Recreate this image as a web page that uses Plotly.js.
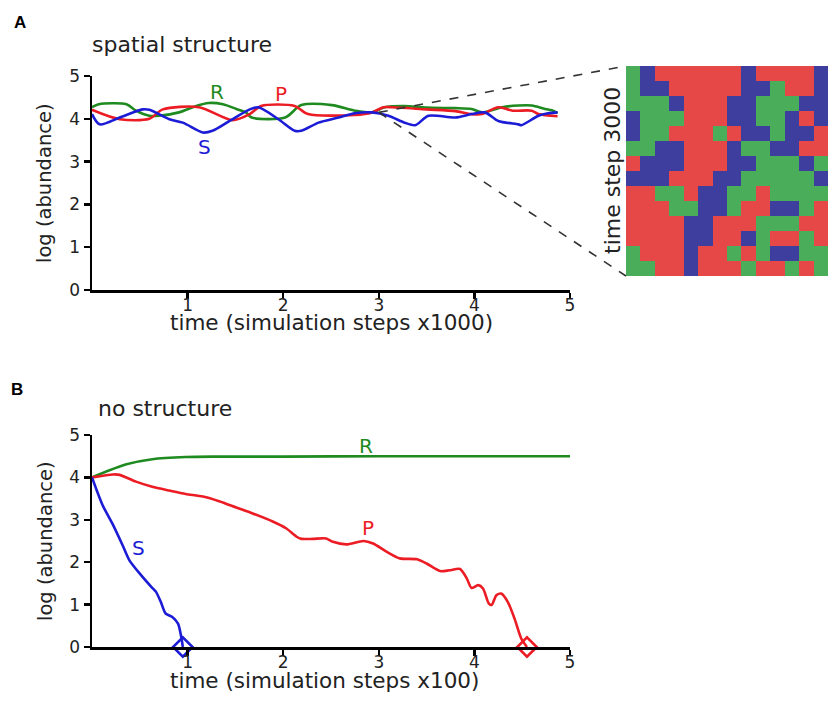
<!DOCTYPE html>
<html>
<head>
<meta charset="utf-8">
<script src="https://cdn.plot.ly/plotly-3.0.1.min.js"></script>
<style>html,body{margin:0;padding:0;background:#fff;}#chart{width:828px;height:711px;}</style>
</head>
<body>
<div id="chart"></div>
<script>
// ---------- Panel A: spatial structure (time in x1000 steps) ----------
const aTimeR = [0, 0.07, 0.36, 0.46, 0.60, 0.70, 0.91, 1.09, 1.22, 1.37, 1.51, 1.61, 1.67, 2.02, 2.19, 2.51, 2.75, 2.93, 3.06, 3.27, 3.5, 3.8, 3.97, 4.08, 4.29, 4.46, 4.60, 4.74, 4.81, 4.87];
const aLogR  = [4.27, 4.34, 4.34, 4.19, 4.07, 4.07, 4.15, 4.30, 4.37, 4.34, 4.23, 4.15, 4.03, 4.03, 4.32, 4.32, 4.19, 4.15, 4.27, 4.30, 4.26, 4.25, 4.23, 4.15, 4.27, 4.31, 4.31, 4.23, 4.20, 4.13];
const aTimeP = [0, 0.29, 0.60, 0.74, 1.12, 1.47, 1.65, 1.77, 2.12, 2.26, 2.75, 2.93, 3.05, 3.14, 3.5, 3.8, 3.97, 4.08, 4.25, 4.4, 4.6, 4.67, 4.87];
const aLogP  = [4.21, 3.99, 4.00, 4.22, 4.27, 3.97, 4.11, 4.30, 4.30, 4.11, 4.09, 4.15, 4.27, 4.27, 4.22, 4.18, 4.11, 4.11, 4.27, 4.19, 4.19, 4.11, 4.06];
const aTimeS = [0, 0.08, 0.29, 0.53, 0.60, 0.81, 0.95, 1.16, 1.26, 1.44, 1.65, 1.74, 1.95, 2.12, 2.19, 2.37, 2.58, 2.75, 2.93, 3.10, 3.27, 3.38, 3.52, 3.80, 3.97, 4.11, 4.25, 4.46, 4.49, 4.67, 4.77, 4.87];
const aLogS  = [4.11, 3.87, 4.03, 4.22, 4.21, 3.99, 3.91, 3.68, 3.72, 3.95, 4.22, 4.27, 3.99, 3.72, 3.72, 3.91, 4.03, 4.13, 4.15, 4.07, 3.91, 3.85, 4.07, 4.03, 4.11, 4.15, 3.95, 3.87, 3.85, 4.07, 4.13, 4.15];
const zoomTime = 3, zoomLog = 4.15;

// ---------- Panel B: no structure (time in x100 steps) ----------
const bTimeR = [0, 0.15, 0.36, 0.63, 0.98, 1.3, 2.0, 3.0, 4.0, 5.0];
const bLogR  = [4.0, 4.14, 4.31, 4.43, 4.48, 4.49, 4.49, 4.50, 4.50, 4.50];
const bTimeP = [0, 0.22, 0.29, 0.46, 0.63, 0.81, 0.98, 1.16, 1.33, 1.51, 1.68, 1.89, 2.03, 2.14, 2.19, 2.31, 2.45, 2.52, 2.66, 2.84, 2.94, 3.08, 3.22, 3.40, 3.50, 3.64, 3.74, 3.85, 3.92, 3.97, 4.04, 4.09, 4.15, 4.18, 4.23, 4.28, 4.35, 4.42, 4.49, 4.55];
const bLogP  = [4.0, 4.07, 4.06, 3.90, 3.78, 3.69, 3.61, 3.55, 3.44, 3.29, 3.15, 2.96, 2.80, 2.60, 2.55, 2.55, 2.56, 2.48, 2.42, 2.50, 2.44, 2.25, 2.09, 2.07, 1.97, 1.79, 1.81, 1.84, 1.62, 1.39, 1.46, 1.38, 1.03, 0.99, 1.22, 1.26, 1.06, 0.67, 0.20, 0];
const bTimeS = [0, 0.11, 0.22, 0.32, 0.39, 0.50, 0.62, 0.67, 0.72, 0.77, 0.84, 0.90, 0.93, 0.95];
const bLogS  = [4.0, 3.35, 2.88, 2.40, 2.05, 1.73, 1.42, 1.30, 1.06, 0.79, 0.71, 0.55, 0.28, 0];
const extinctS = [0.95], extinctP = [4.55];

const xTicks = [1, 2, 3, 4, 5];
const yTicks = [0, 1, 2, 3, 4, 5];

// ---------- Snapshot at time step 3000 (dominant species per patch) ----------
const gridRows = [
  "GBRRRRRRBRRRRB",
  "GBBRRRRRBBGRRB",
  "GGGBRRRBBGGGBB",
  "BGGGRRRBBGGBRB",
  "BGGRRRGRBBGBBR",
  "GGBBRRRBGGBBRR",
  "RBBBRRRBBGGGBG",
  "BBBRRRBBGGGGGB",
  "RRGGRBBGGRGGGG",
  "RRRGGBBGRRBBGR",
  "RRRRBBRRRGGGRR",
  "RRRRBBRRBGRRGR",
  "GRRRBRRGRGBBGG",
  "GGRRBRRRGRRGRG"
];
const speciesCode = {R: 0, G: 1, B: 2};

// ---------- styles ----------
const FONT = "DejaVu Sans";
const TXT = "#222";
const cR = "#1f8a1f", cP = "#ec1c24", cS = "#1c1cd6";
const W = 828, H = 711;
const px = v => v / W, py = v => 1 - v / H;
const domXA = [px(92), px(570)];
const domYA = [py(290), py(76)];
const domYB = [py(647), py(435)];
const domXI = [px(626), 1];
const domYI = [py(276), py(66)];

function line(x, y, color, xa, ya, smooth) {
  return {x, y, type: "scatter", mode: "lines", xaxis: xa, yaxis: ya, cliponaxis: false,
    line: {color, width: 2.6, shape: "spline", smoothing: smooth}, hoverinfo: "skip", showlegend: false};
}
function diamond(x, color) {
  return {x, y: x.map(() => 0), type: "scatter", mode: "markers", xaxis: "x2", yaxis: "y2", cliponaxis: false,
    marker: {symbol: "diamond-open", size: 15, color, line: {color, width: 2.6}}, showlegend: false, hoverinfo: "skip"};
}

const zGrid = gridRows.map(r => r.split("").map(ch => speciesCode[ch]));

const traces = [
  line(aTimeR, aLogR, cR, "x", "y", 0.8),
  line(aTimeP, aLogP, cP, "x", "y", 0.8),
  line(aTimeS, aLogS, cS, "x", "y", 0.8),
  line(bTimeR, bLogR, cR, "x2", "y2", 0.8),
  line(bTimeP, bLogP, cP, "x2", "y2", 0.7),
  line(bTimeS, bLogS, cS, "x2", "y2", 0.7),
  diamond(extinctS, cS),
  diamond(extinctP, cP),
  {type: "heatmap", z: zGrid, xaxis: "x3", yaxis: "y3", zmin: 0, zmax: 2, showscale: false, hoverinfo: "skip",
   colorscale: [[0, "#e64848"], [0.333, "#e64848"], [0.333, "#4aad5a"], [0.667, "#4aad5a"], [0.667, "#3e3e9e"], [1, "#3e3e9e"]]}
];

function xAxis(domain, anchor) {
  return {domain, anchor, range: [0, 5], showline: true, linewidth: 2.5, linecolor: "#000", mirror: false,
    ticks: "outside", ticklen: 6, tickwidth: 2.5, tickcolor: "#000", tickvals: xTicks, showgrid: false, zeroline: false,
    ticklabelstandoff: -8,
    tickfont: {family: FONT, size: 17, color: TXT}};
}
function yAxis(domain, anchor) {
  return {domain, anchor, range: [0, 5], showline: true, linewidth: 2.5, linecolor: "#000",
    ticks: "outside", ticklen: 6, tickwidth: 2.5, tickcolor: "#000", tickvals: yTicks, showgrid: false, zeroline: false,
    tickfont: {family: FONT, size: 17, color: TXT}};
}

// connector from the zoom point in panel A to the snapshot corners
const zx = domXA[0] + zoomTime / 5 * (domXA[1] - domXA[0]);
const zy = domYA[0] + zoomLog / 5 * (domYA[1] - domYA[0]);

function lab(text, x, y, color, xref, yref) {
  return {text, x, y, xref, yref, showarrow: false, font: {family: FONT, size: 20, color}, xanchor: "center", yanchor: "middle"};
}
function ptext(text, x, y, size, angle, family) {
  return {text, x: px(x), y: py(y), xref: "paper", yref: "paper", xanchor: "center", yanchor: "middle",
    textangle: angle || 0, showarrow: false, font: {family: family || FONT, size, color: TXT}};
}

const layout = {
  width: W, height: H, margin: {l: 0, r: 0, t: 0, b: 0},
  paper_bgcolor: "#fff", plot_bgcolor: "rgba(0,0,0,0)", showlegend: false,
  xaxis: xAxis(domXA, "y"),
  yaxis: yAxis(domYA, "x"),
  xaxis2: xAxis(domXA, "y2"),
  yaxis2: yAxis(domYB, "x2"),
  xaxis3: {domain: domXI, anchor: "y3", visible: false, range: [-0.5, 13.5]},
  yaxis3: {domain: domYI, anchor: "x3", visible: false, range: [13.5, -0.5]},
  shapes: [
    {type: "line", xref: "paper", yref: "paper", x0: zx, y0: zy, x1: domXI[0], y1: domYI[1], line: {color: "#333", width: 1.6, dash: "dash"}},
    {type: "line", xref: "paper", yref: "paper", x0: zx, y0: zy, x1: domXI[0], y1: domYI[0], line: {color: "#333", width: 1.6, dash: "dash"}}
  ],
  annotations: [
    {text: "<b>A</b>", x: px(20), y: py(22), xref: "paper", yref: "paper", xanchor: "center", yanchor: "middle", showarrow: false, font: {family: "Liberation Sans", size: 17, color: "#000"}},
    {text: "<b>B</b>", x: px(17), y: py(389), xref: "paper", yref: "paper", xanchor: "center", yanchor: "middle", showarrow: false, font: {family: "Liberation Sans", size: 17, color: "#000"}},
    {text: "spatial structure", x: px(90), y: py(44), xref: "paper", yref: "paper", xanchor: "left", yanchor: "middle", showarrow: false, font: {family: FONT, size: 22, color: TXT}},
    {text: "no structure", x: px(96), y: py(408), xref: "paper", yref: "paper", xanchor: "left", yanchor: "middle", showarrow: false, font: {family: FONT, size: 22, color: TXT}},
    ptext("time step 3000", 613, 171, 22, -90),
    ptext("time (simulation steps x1000)", 331, 323, 21.5),
    ptext("time (simulation steps x100)", 324, 680, 21.5),
    ptext("log (abundance)", 45, 183, 19.5, -90),
    ptext("log (abundance)", 45, 541, 19.5, -90),
    lab("R", 1.31, 4.62, cR, "x", "y"),
    lab("P", 1.98, 4.58, cP, "x", "y"),
    lab("S", 1.18, 3.35, cS, "x", "y"),
    lab("R", 2.87, 4.73, cR, "x2", "y2"),
    lab("P", 2.89, 2.80, cP, "x2", "y2"),
    lab("S", 0.49, 2.33, cS, "x2", "y2")
  ]
};

Plotly.newPlot("chart", traces, layout, {staticPlot: true, displayModeBar: false});
</script>
</body>
</html>
